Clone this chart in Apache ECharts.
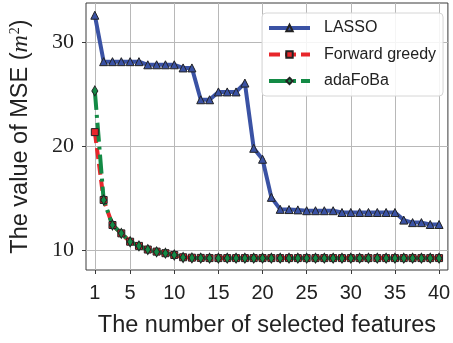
<!DOCTYPE html>
<html>
<head>
<meta charset="utf-8">
<script src="https://cdn.jsdelivr.net/npm/echarts@6/dist/echarts.min.js"></script>
<style>
  html, body { margin: 0; padding: 0; background: #fff; }
  #chart { width: 453px; height: 343px; }
</style>
</head>
<body>
<div id="chart"></div>
<script>
// Number of selected features (x positions)
const features = Array.from({ length: 40 }, (_, i) => i + 1);

// MSE per number of selected features
const lasso = [
  32.55, 28.1, 28.1, 28.1, 28.1, 28.1, 27.8, 27.8, 27.8, 27.8,
  27.5, 27.5, 24.45, 24.45, 25.2, 25.2, 25.2, 26.05, 19.8, 18.75,
  15.1, 13.95, 13.93, 13.9, 13.82, 13.82, 13.82, 13.82, 13.65, 13.65,
  13.65, 13.65, 13.65, 13.65, 13.65, 12.92, 12.68, 12.68, 12.5, 12.5
];
const forwardGreedy = [
  21.35, 14.85, 12.45, 11.65, 10.85, 10.45, 10.1, 9.9, 9.75, 9.58,
  9.36, 9.32, 9.3, 9.28, 9.28, 9.28, 9.28, 9.28, 9.28, 9.28,
  9.28, 9.28, 9.28, 9.28, 9.28, 9.28, 9.28, 9.28, 9.28, 9.28,
  9.28, 9.28, 9.28, 9.28, 9.28, 9.28, 9.28, 9.28, 9.28, 9.28
];
const adaFoBa = [
  25.3, 14.85, 12.45, 11.65, 10.85, 10.45, 10.1, 9.88, 9.75, 9.58,
  9.34, 9.3, 9.28, 9.27, 9.27, 9.27, 9.27, 9.27, 9.27, 9.27,
  9.27, 9.27, 9.27, 9.27, 9.27, 9.27, 9.27, 9.27, 9.27, 9.27,
  9.27, 9.27, 9.27, 9.27, 9.27, 9.27, 9.27, 9.27, 9.27, 9.27
];

// Tick positions
const xTicks = [1, 5, 10, 15, 20, 25, 30, 35, 40];
const yTicks = [10, 20, 30];

const pair = (ys) => features.map((x, i) => [x, ys[i]]);

const sans = 'Liberation Sans, Arial, sans-serif';
const serif = 'Liberation Serif, Times New Roman, serif';
const edge = '#222';

const chart = echarts.init(document.getElementById('chart'), null, { renderer: 'canvas' });
chart.setOption({
  animation: false,
  backgroundColor: '#fff',
  grid: {
    left: 78, right: 3, top: 3, bottom: 65,
    show: true, borderColor: '#3a3a3a', borderWidth: 1, containLabel: false
  },
  legend: {
    orient: 'vertical',
    left: 262, top: 13,
    padding: [7, 7, 7, 5],
    itemWidth: 41, itemHeight: 8, itemGap: 10.5,
    lineStyle: { width: 4 },
    backgroundColor: 'rgba(255,255,255,0.85)',
    borderColor: '#d6d6d6', borderWidth: 1, borderRadius: 4,
    textStyle: { fontFamily: sans, fontSize: 16, color: '#222', lineHeight: 16, padding: [0, 0, 0, 9] },
    data: ['LASSO', 'Forward greedy', 'adaFoBa']
  },
  xAxis: {
    type: 'value', min: 0, max: 41,
    name: 'The number of selected features',
    nameLocation: 'middle', nameGap: 44,
    nameTextStyle: { fontFamily: sans, fontSize: 23.5, color: '#222' },
    axisLine: { show: false },
    axisTick: { show: true, inside: false, length: 4, customValues: xTicks, lineStyle: { color: '#3a3a3a' } },
    axisLabel: { customValues: xTicks, margin: 13, fontFamily: sans, fontSize: 20, color: '#222' },
    splitLine: { show: true, customValues: xTicks, lineStyle: { color: '#b8b8b8', width: 1 } }
  },
  yAxis: {
    type: 'value', min: 8.14, max: 33.72,
    name: 'The value of MSE ({m|m}{s|2})',
    nameLocation: 'middle', nameGap: 53, nameRotate: 90,
    nameTextStyle: {
      fontFamily: sans, fontSize: 23.5, color: '#222',
      rich: {
        m: { fontFamily: serif, fontStyle: 'italic', fontSize: 24, color: '#222' },
        s: { fontFamily: serif, fontStyle: 'normal', fontSize: 14, color: '#222', padding: [0, 0, 11, 1] }
      }
    },
    axisLine: { show: false },
    axisTick: { show: true, inside: false, length: 4, customValues: yTicks, lineStyle: { color: '#3a3a3a' } },
    axisLabel: { customValues: yTicks, margin: 12, fontFamily: serif, fontSize: 22, color: '#222' },
    splitLine: { show: true, customValues: yTicks, lineStyle: { color: '#b8b8b8', width: 1 } }
  },
  series: [
    {
      name: 'LASSO', type: 'line', data: pair(lasso),
      symbol: 'triangle', symbolSize: 8, showAllSymbol: true,
      lineStyle: { color: '#3a52a4', width: 4 },
      itemStyle: { color: '#3a52a4', borderColor: edge, borderWidth: 1 }
    },
    {
      name: 'Forward greedy', type: 'line', data: pair(forwardGreedy),
      symbol: 'rect', symbolSize: 7, showAllSymbol: true,
      lineStyle: { color: '#e8262b', width: 4, type: [11, 5] },
      itemStyle: { color: '#e8262b', borderColor: edge, borderWidth: 1 }
    },
    {
      name: 'adaFoBa', type: 'line', data: pair(adaFoBa),
      symbol: 'diamond', symbolSize: [6, 10], showAllSymbol: true,
      lineStyle: { color: '#138a45', width: 4, type: [19, 5, 3, 5] },
      itemStyle: { color: '#138a45', borderColor: edge, borderWidth: 1 }
    }
  ]
});
</script>
</body>
</html>
